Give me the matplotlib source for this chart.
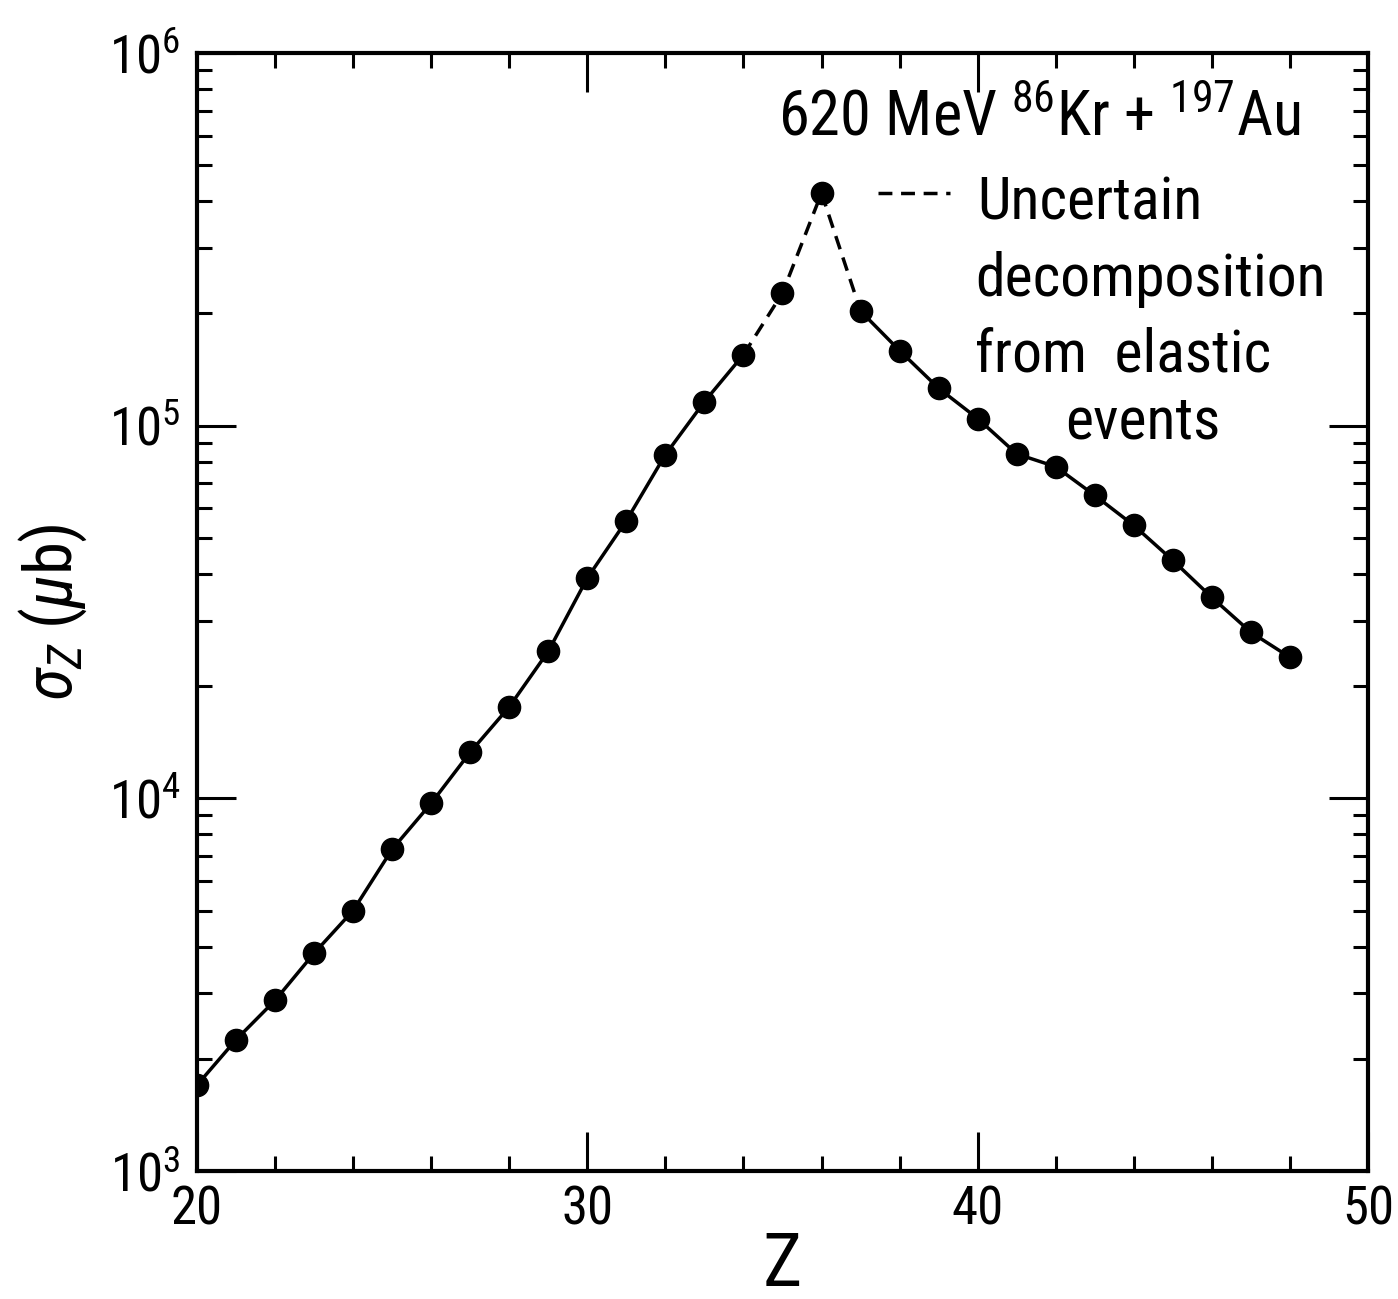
import matplotlib
matplotlib.use("Agg")
import matplotlib.pyplot as plt
from matplotlib.ticker import FixedLocator, LogLocator, NullFormatter, FixedFormatter
from matplotlib import font_manager

# ------------------------------
# data
# ------------------------------
z_vals = [20, 21, 22, 23, 24, 25, 26, 27, 28, 29, 30, 31, 32, 33, 34,
          35, 36, 37, 38, 39, 40, 41, 42, 43, 44, 45, 46, 47, 48]
sigma_z = [1700, 2250, 2870, 3840, 5000, 7300, 9700, 13300, 17600, 24800,
           39000, 55600, 83600, 116000, 155000, 227000, 421000, 203000,
           159000, 126000, 104500, 84000, 77600, 65000, 54000, 43500,
           34600, 27900, 23900]
dashed_z = [34, 35, 36, 37]   # uncertain decomposition from elastic events
x_ticks = [20, 30, 40, 50]
y_ticks = [1e3, 1e4, 1e5, 1e6]
y_tick_labels = ["$10^3$", "$10^4$", "$10^5$", "$10^6$"]
note_lines = ["Uncertain", "decomposition", "from  elastic", "events"]

# narrow font if there is one, else DejaVu
installed = {f.name for f in font_manager.fontManager.ttflist}
font = "DejaVu Sans"
for cand in ["Liberation Sans Narrow", "DejaVu Sans Condensed", "Roboto Condensed", "Open Sans Condensed"]:
    if cand in installed:
        font = cand
        break

plt.rcParams["font.family"] = [font, "DejaVu Sans"]
plt.rcParams["mathtext.fontset"] = "custom"
plt.rcParams["mathtext.rm"] = font
plt.rcParams["mathtext.it"] = font + ":italic"
plt.rcParams["mathtext.bf"] = font + ":bold"
plt.rcParams["mathtext.sf"] = font

fig = plt.figure(figsize=(13.98, 12.99), dpi=100)
ax = fig.add_axes([197 / 1398, 128 / 1299, 1171 / 1398, 1118 / 1299])

# split the series: solid / dashed / solid
dash = (0, (4, 2.5))
i0 = z_vals.index(dashed_z[0])
i1 = z_vals.index(dashed_z[-1])
ax.plot(z_vals[:i0 + 1], sigma_z[:i0 + 1], color="black", lw=2.5)
ax.plot(z_vals[i0:i1 + 1], sigma_z[i0:i1 + 1], color="black", lw=2.5, ls=dash)
ax.plot(z_vals[i1:], sigma_z[i1:], color="black", lw=2.5)
ax.plot(z_vals, sigma_z, "o", color="black", ms=16)

ax.set_yscale("log")
ax.set_xlim(20, 50)
ax.set_ylim(1e3, 1e6)

ax.xaxis.set_major_locator(FixedLocator(x_ticks))
ax.xaxis.set_minor_locator(FixedLocator(range(20, 51, 2)))
ax.yaxis.set_major_locator(FixedLocator(y_ticks))
ax.yaxis.set_major_formatter(FixedFormatter(y_tick_labels))
ax.yaxis.set_minor_locator(LogLocator(base=10, subs=range(2, 10)))
ax.yaxis.set_minor_formatter(NullFormatter())

ax.tick_params(which="both", direction="in", top=True, right=True, width=2.2)
ax.tick_params(which="major", length=28, labelsize=38)
ax.tick_params(axis="x", which="major", pad=10)
ax.tick_params(axis="y", which="major", pad=12)
ax.tick_params(which="minor", length=11)
for s in ax.spines.values():
    s.set_linewidth(3)

ax.set_xlabel("Z", fontsize=54, labelpad=-4)
ax.set_ylabel(r"$\sigma_Z$ ($\mu$b)", fontsize=48, labelpad=14)

ax.text(0.942, 0.968, r"620 MeV $^{86}$Kr + $^{197}$Au", transform=ax.transAxes,
        ha="right", va="top", fontsize=45)

# dashed-line key and note
ax.plot([37.45, 39.3], [4.2e5, 4.2e5], color="black", lw=2.5, ls=dash)
note_y = [3.95e5, 2.47e5, 1.55e5, 1.02e5]
note_x = [40.0, 39.93, 39.93, 42.25]
for txt, xx, yy in zip(note_lines, note_x, note_y):
    ax.text(xx, yy, txt, fontsize=43, ha="left", va="center")

fig.savefig("out.png", dpi=100)
